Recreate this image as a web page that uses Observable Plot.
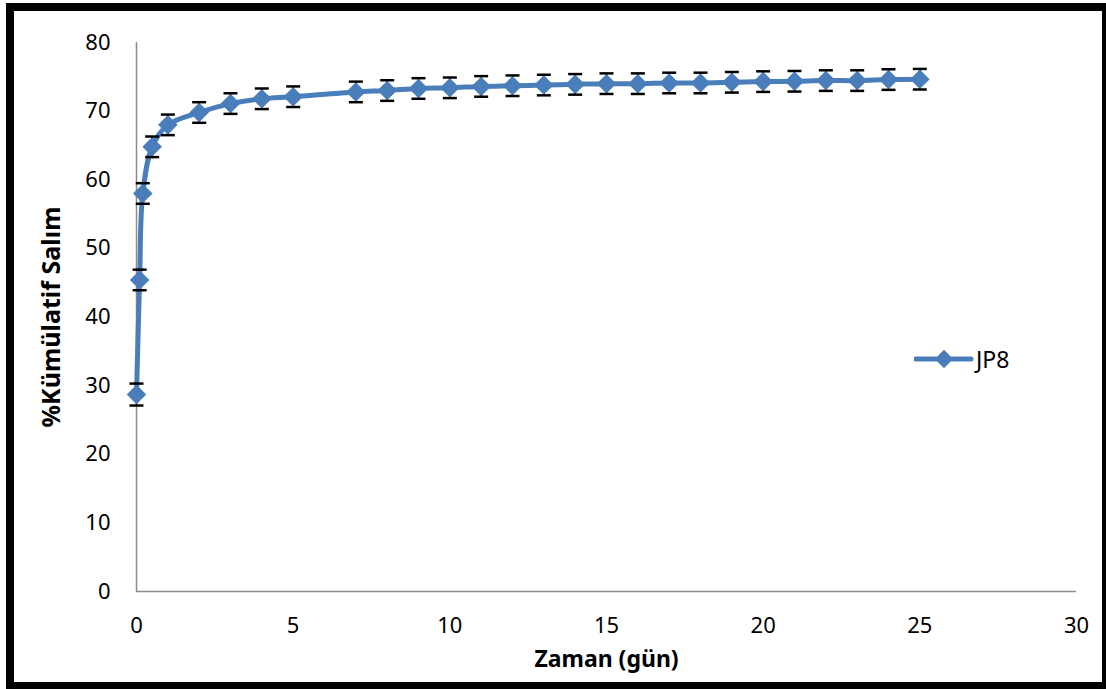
<!DOCTYPE html>
<html>
<head>
<meta charset="utf-8">
<script src="https://cdn.jsdelivr.net/npm/d3@7"></script>
<script src="https://cdn.jsdelivr.net/npm/@observablehq/plot@0.6"></script>
<style>
  html, body { margin: 0; padding: 0; background: #fff; overflow: hidden; }
  #wrap { position: relative; width: 1106px; height: 689px; }
  #border { position: absolute; left: 6px; top: 3px; width: 1100px; height: 686px; box-sizing: border-box;
    border-style: solid; border-color: #000; border-width: 8px 4px 7px 8px; pointer-events: none; }
  #legend { position: absolute; left: 914px; top: 343px; font-family: "Noto Sans", sans-serif; font-size: 23px; color: #000; display: flex; align-items: center; }
  #chart { position: absolute; left: 0; top: 0; }
</style>
</head>
<body>
<div id="wrap">
  <div id="chart"></div>
  <div id="border"></div>
  <div id="legend"></div>
</div>
<script>
const seriesName = "JP8";
const days = [0, 0.1, 0.2, 0.5, 1, 2, 3, 4, 5, 7, 8, 9, 10, 11, 12, 13, 14, 15, 16, 17, 18, 19, 20, 21, 22, 23, 24, 25];
const release = [28.7, 45.4, 58.0, 64.8, 68.0, 69.8, 71.1, 71.8, 72.1, 72.8, 73.0, 73.3, 73.4, 73.6, 73.7, 73.8, 73.9, 74.0, 74.0, 74.1, 74.1, 74.2, 74.3, 74.35, 74.45, 74.45, 74.6, 74.65];
const errors = [1.6, 1.5, 1.5, 1.5, 1.5, 1.5, 1.5, 1.5, 1.5, 1.5, 1.5, 1.5, 1.5, 1.5, 1.5, 1.5, 1.5, 1.5, 1.5, 1.5, 1.5, 1.5, 1.5, 1.5, 1.5, 1.5, 1.5, 1.5];
const xTicks = [0, 5, 10, 15, 20, 25, 30];
const yTicks = [0, 10, 20, 30, 40, 50, 60, 70, 80];
const xTitle = "Zaman (gün)";
const yTitle = "%Kümülatif Salım";

const data = days.map((d, i) => ({x: d, y: release[i], lo: release[i] - errors[i], hi: release[i] + errors[i]}));
const blue = "#4A7EBB";
const capSymbol = {draw(ctx) { ctx.moveTo(-7, 0); ctx.lineTo(7, 0); }};
const font = "'Noto Sans', sans-serif";

const chart = Plot.plot({
  width: 1106,
  height: 689,
  marginLeft: 136,
  marginRight: 30,
  marginTop: 42,
  marginBottom: 98,
  style: {fontFamily: font, background: "transparent", color: "#000"},
  x: {domain: [0, 30]},
  y: {domain: [0, 80]},
  marks: [
    Plot.axisY({ticks: yTicks, tickSize: 0, tickPadding: 26, fontSize: 22, label: null}),
    Plot.axisX({ticks: xTicks, tickSize: 0, tickPadding: 26, fontSize: 22, label: null}),
    Plot.ruleX([0], {stroke: "#8c8c8c", strokeWidth: 1.5}),
    Plot.ruleY([0], {stroke: "#8c8c8c", strokeWidth: 1.5}),
    Plot.ruleX(data, {x: "x", y1: "lo", y2: "hi", stroke: "#000", strokeWidth: 1.5}),
    Plot.line(data, {x: "x", y: "y", stroke: blue, strokeWidth: 5, curve: "catmull-rom"}),
    Plot.dot(data, {x: "x", y: "y", symbol: "square", rotate: 45, r: 7.8, fill: blue, stroke: "none"}),
    Plot.dot(data, {x: "x", y: "lo", symbol: capSymbol, stroke: "#000", strokeWidth: 2.5}),
    Plot.dot(data, {x: "x", y: "hi", symbol: capSymbol, stroke: "#000", strokeWidth: 2.5}),
    Plot.text([yTitle], {frameAnchor: "left", textAnchor: "middle", dx: -85, rotate: -90, fontSize: 25, fontWeight: "bold", fill: "#000"}),
    Plot.text([xTitle], {frameAnchor: "bottom", textAnchor: "middle", dy: 75, fontSize: 23, fontWeight: "bold", fill: "#000"})
  ]
});
document.getElementById("chart").appendChild(chart);

document.getElementById("legend").innerHTML =
  `<svg width="60" height="26"><line x1="2" y1="13" x2="57" y2="13" stroke="${blue}" stroke-width="5" stroke-linecap="round"/>` +
  `<rect x="23.5" y="6.5" width="13" height="13" fill="${blue}" transform="rotate(45 30 13)"/></svg>` +
  `<span style="margin-left:2px">${seriesName}</span>`;
</script>
</body>
</html>
